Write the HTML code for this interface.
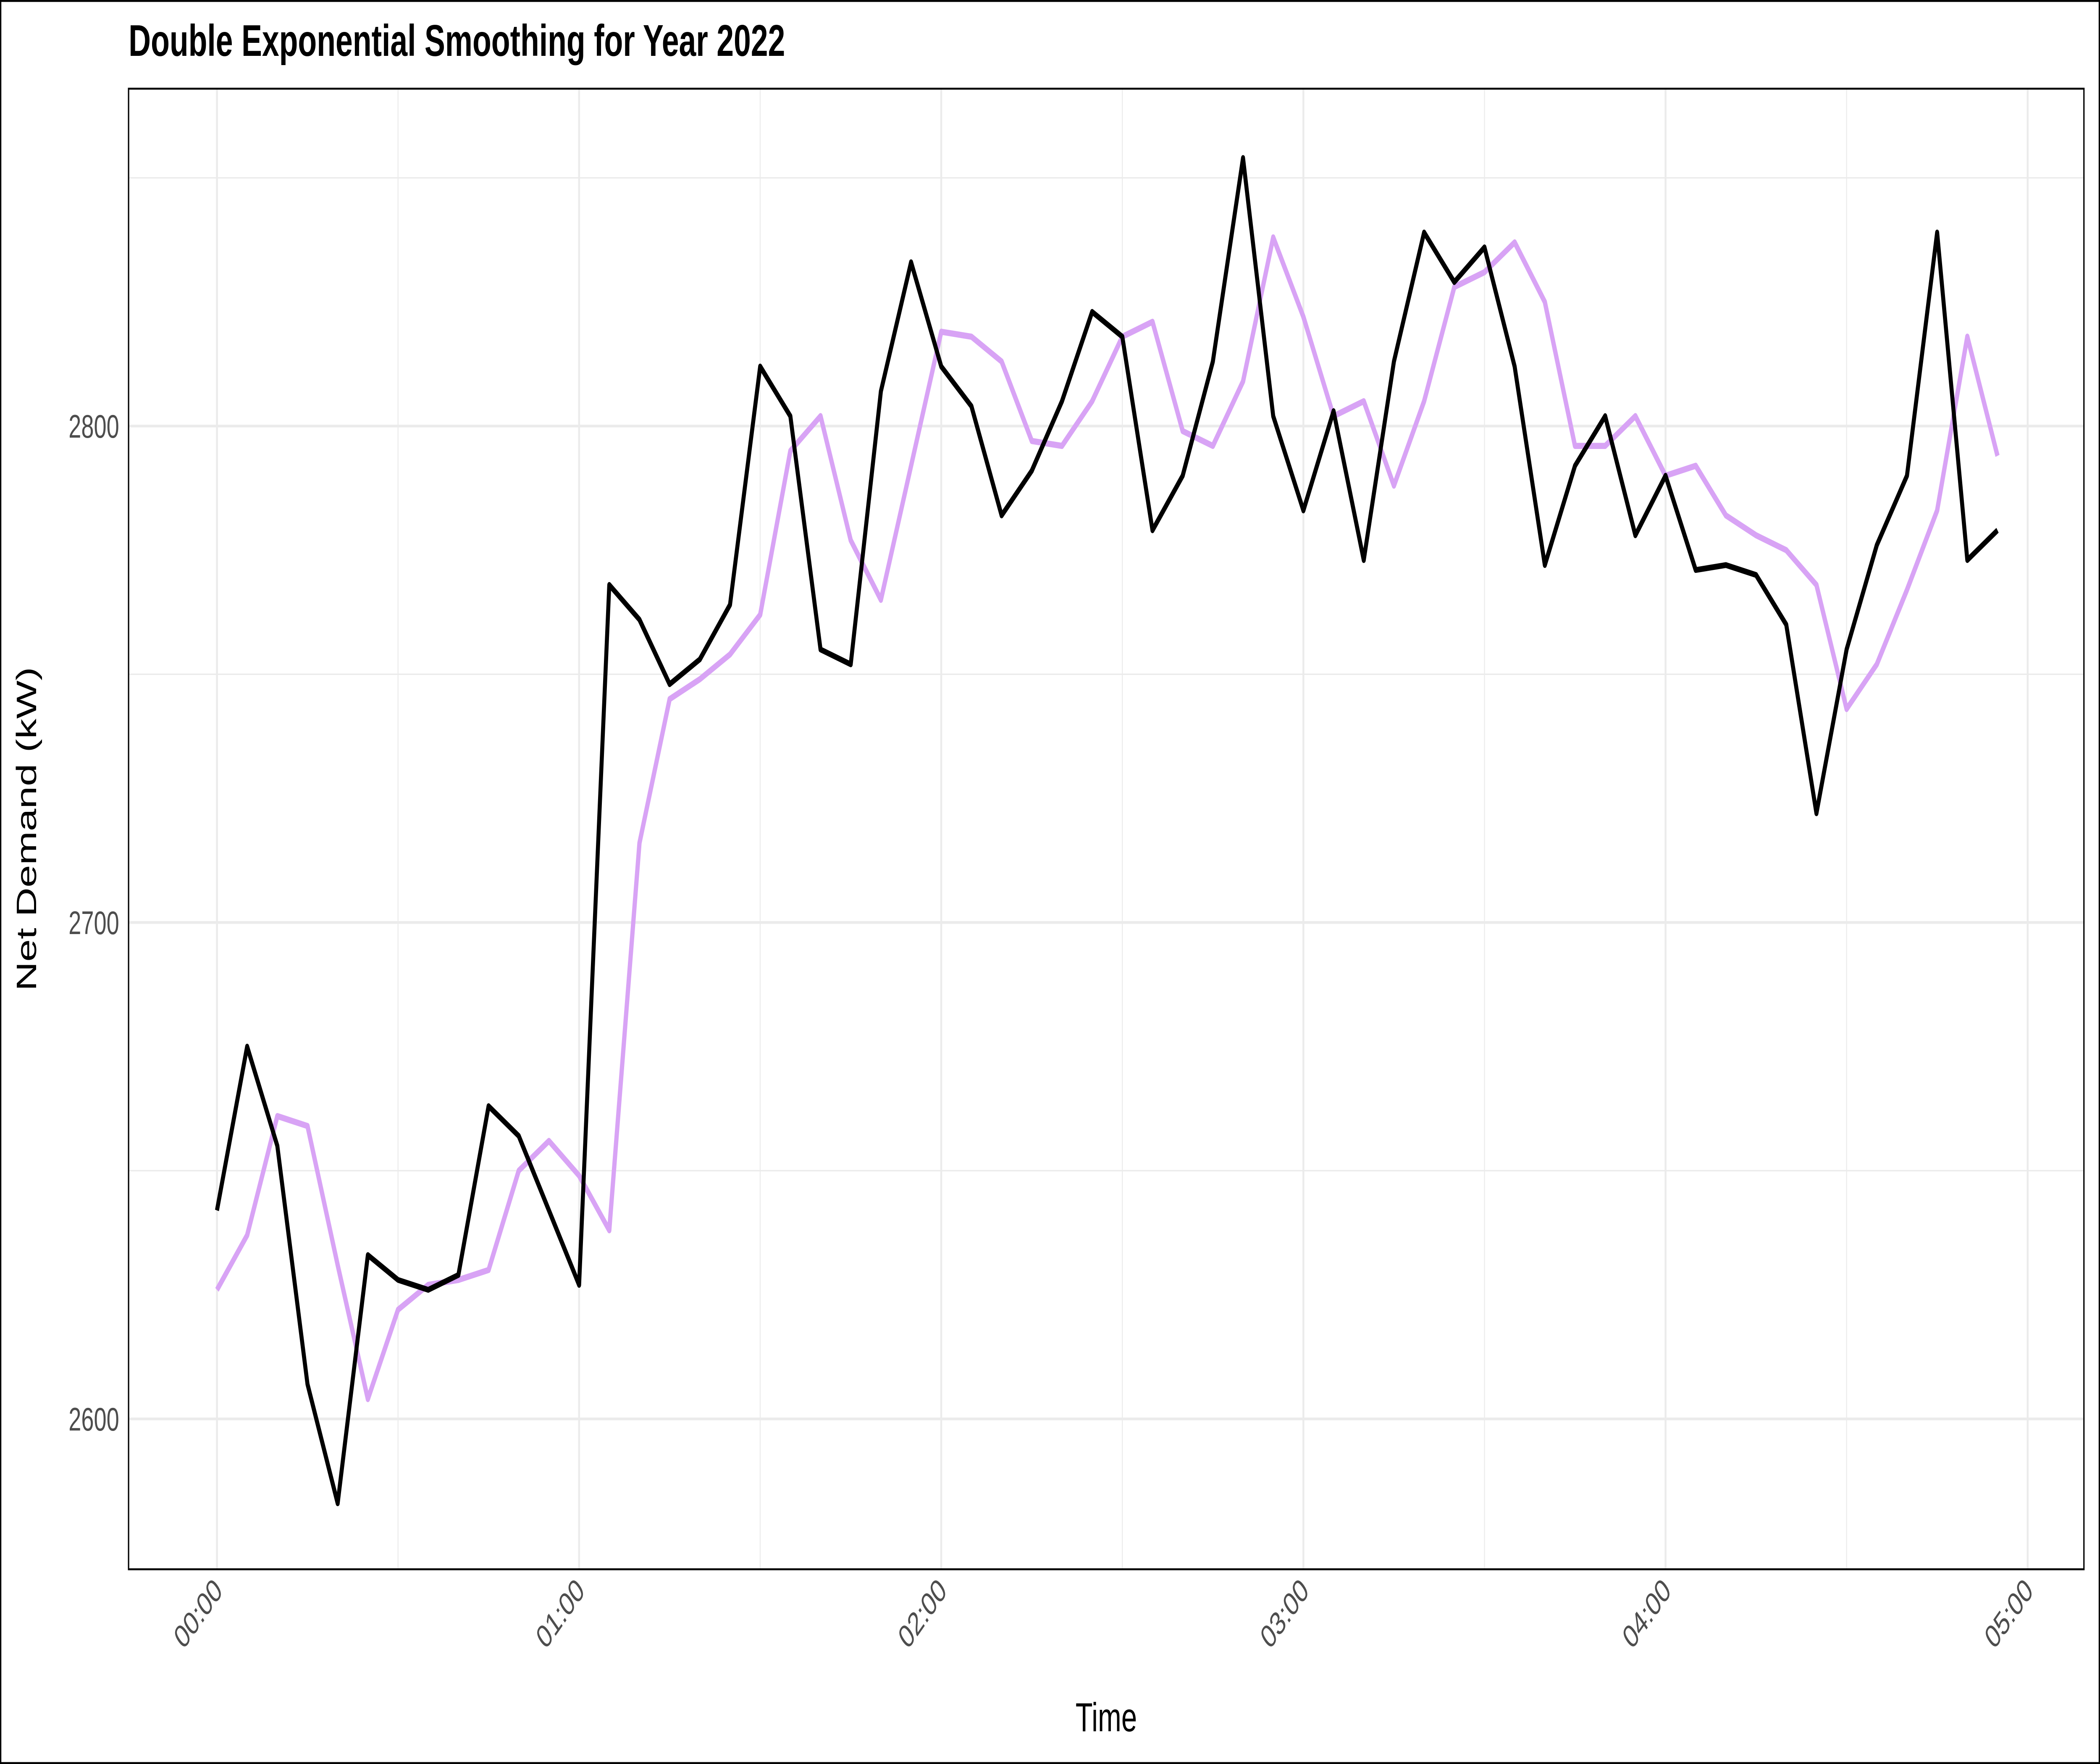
<!DOCTYPE html>
<html><head><meta charset="utf-8"><style>html,body{margin:0;padding:0;background:#fff;width:100vw;height:100vh;overflow:hidden}svg{display:block;position:absolute;left:0;top:0;width:100vw;height:100vh}</style></head>
<body>
<svg id="chart" viewBox="0 0 1568 915" preserveAspectRatio="none" xmlns="http://www.w3.org/2000/svg" font-family="Liberation Sans, Arial, sans-serif">
<rect x="0.5" y="0.5" width="1567" height="914" fill="#fff" stroke="#000" stroke-width="1"/>
<text x="96" y="29" font-size="23" font-weight="bold" fill="#000">Double Exponential Smoothing for Year 2022</text>
<g id="grid"></g>
<g id="series"></g>
<rect x="96" y="46" width="1460" height="768" fill="none" stroke="#000" stroke-width="1"/>
<g id="ticks"></g>
<text x="826" y="898" font-size="21" text-anchor="middle" fill="#000">Time</text>
<text transform="translate(27,430) rotate(-90)" font-size="21" text-anchor="middle" fill="#000">Net Demand (kW)</text>
</svg>
<script>
const minutes = [0,5,10,15,20,25,30,35,40,45,50,55,60,65,70,75,80,85,90,95,100,105,110,115,120,125,130,135,140,145,150,155,160,165,170,175,180,185,190,195,200,205,210,215,220,225,230,235,240,245,250,255,260,265,270,275,280,285,290,295];
const actual = [2642,2675,2655,2607,2583,2633,2628,2626,2629,2663,2657,2642,2627,2768,2761,2748,2753,2764,2812,2802,2755,2752,2807,2833,2812,2804,2782,2791,2805,2823,2818,2779,2790,2813,2854,2802,2783,2803,2773,2813,2839,2829,2836,2812,2772,2792,2802,2778,2790,2771,2772,2770,2760,2722,2755,2776,2790,2839,2773,2779];
const smoothed = [2626,2637,2661,2659,2631,2604,2622,2627,2628,2630,2650,2656,2649,2638,2716,2745,2749,2754,2762,2795,2802,2777,2765,2792,2819,2818,2813,2797,2796,2805,2818,2821,2799,2796,2809,2838,2822,2802,2805,2788,2805,2828,2831,2837,2825,2796,2796,2802,2790,2792,2782,2778,2775,2768,2743,2752,2767,2783,2818,2794];
const yTicks = [2600,2700,2800];
const yMinor = [2650,2750,2850];
const xTickLabels = ["00:00","01:00","02:00","03:00","04:00","05:00"];
const xTickMinutes = [0,60,120,180,240,300];
const xMinorMinutes = [30,90,150,210,270];

const NS="http://www.w3.org/2000/svg";
function X(m){return 162 + m*(1514-162)/300;}
function Y(v){return 736 - (v-2600)*(736-478.5)/100;}
function el(tag,attrs,parent){const e=document.createElementNS(NS,tag);for(const k in attrs)e.setAttribute(k,attrs[k]);parent.appendChild(e);return e;}
const grid=document.getElementById('grid'), ticks=document.getElementById('ticks'), series=document.getElementById('series');
yMinor.forEach(v=>{const l=el('line',{x1:96,x2:1556,y1:Y(v),y2:Y(v),stroke:'#ebebeb','stroke-width':0.7},grid);

});
xMinorMinutes.forEach(m=>{const l=el('line',{x1:X(m),x2:X(m),y1:46,y2:814,stroke:'#ebebeb','stroke-width':0.7},grid);

});
yTicks.forEach(v=>{const l=el('line',{x1:96,x2:1556,y1:Y(v),y2:Y(v),stroke:'#ebebeb','stroke-width':1.4},grid);


const t=el('text',{x:89,y:Y(v)+6,'font-size':17,'text-anchor':'end',fill:'#4d4d4d'},ticks);
t.textContent=v;

});
xTickMinutes.forEach((m,i)=>{const l=el('line',{x1:X(m),x2:X(m),y1:46,y2:814,stroke:'#ebebeb','stroke-width':1.4},grid);


const t=el('text',{transform:`translate(${X(m)+5},${826}) rotate(-45)`,'font-size':17,'text-anchor':'end',fill:'#4d4d4d'},ticks);
t.textContent=xTickLabels[i];

});
function path(vals,color,w,name){const d=vals.map((v,i)=>(i?'L':'M')+X(minutes[i]).toFixed(2)+','+Y(v).toFixed(2)).join(' ');
const p=el('path',{d:d,fill:'none',stroke:color,'stroke-width':w,'stroke-linejoin':'round'},series);

}
path(smoothed,'#d8a3f5',3.2,'smoothed-line');
path(actual,'#000000',3,'actual-line');
</script>
</body></html>
